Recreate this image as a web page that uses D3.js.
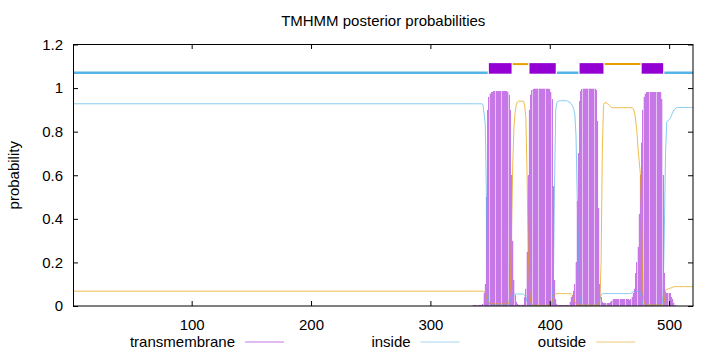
<!DOCTYPE html>
<html><head><meta charset="utf-8">
<script src="https://cdn.jsdelivr.net/npm/d3@7"></script>
<style>
body{margin:0;background:#fff}
svg{display:block}
text{font-family:"Liberation Sans",Arial,Helvetica,sans-serif;fill:#000}
</style>
</head><body>
<svg id="chart" width="720" height="352"></svg>
<script>
// ---------------- data ----------------
const chartTitle = "TMHMM posterior probabilities";
const yLabel = "probability";
const seriesNames = ["transmembrane", "inside", "outside"];
const xTicks = [100, 200, 300, 400, 500];
const yTicks = [0, 0.2, 0.4, 0.6, 0.8, 1, 1.2];
const seqLength = 520;

// residue 1 (flat N-terminal stretch), then residues 336..520
const residues = [1].concat(d3.range(336, 521));

const tmProb = [0.004,
  0.004,0.004,0.004,0.004,0.004,0.004,0.004,0.004,0.01,0.06,
  0.1,0.5,0.9,0.96,0.975,0.98,0.983,0.985,0.985,0.985,
  0.985,0.985,0.985,0.985,0.985,0.985,0.985,0.985,0.985,0.983,
  0.97,0.9,0.6,0.3,0.12,0.05,0.02,0.01,0.006,0.006,
  0.006,0.006,0.006,0.04,0.08,0.25,0.6,0.9,0.97,0.99,
  0.995,0.998,0.998,0.998,0.998,0.998,0.998,0.998,0.998,0.998,
  0.998,0.998,0.998,0.998,0.995,0.98,0.95,0.55,0.12,0.03,
  0.01,0.004,0.004,0.004,0.004,0.004,0.004,0.004,0.004,0.004,
  0.004,0.02,0.04,0.05,0.07,0.1,0.2,0.48,0.7,0.94,
  0.985,0.995,0.998,0.998,0.998,0.998,0.998,0.998,0.998,0.998,
  0.998,0.998,0.998,0.99,0.85,0.45,0.1,0.04,0.02,0.015,
  0.012,0.012,0.012,0.012,0.012,0.02,0.025,0.03,0.03,0.03,
  0.03,0.03,0.03,0.03,0.03,0.03,0.03,0.03,0.03,0.03,
  0.03,0.028,0.03,0.04,0.06,0.08,0.15,0.2,0.27,0.42,
  0.6,0.75,0.9,0.96,0.975,0.98,0.982,0.982,0.982,0.982,
  0.982,0.982,0.982,0.982,0.982,0.982,0.982,0.98,0.95,0.6,
  0.15,0.065,0.06,0.06,0.06,0.06,0.04,0.03,0.015,0.005,
  0,0,0,0,0,0,0,0,0,0,
  0,0,0,0,0];

const insideProb = [0.928,
  0.928,0.928,0.928,0.928,0.928,0.928,0.928,0.928,0.925,0.88,
  0.83,0.48,0.06,0.015,0.006,0.006,0.006,0.006,0.006,0.006,
  0.006,0.006,0.006,0.006,0.006,0.006,0.006,0.006,0.006,0.006,
  0.01,0.02,0.04,0.05,0.055,0.055,0.055,0.055,0.055,0.055,
  0.055,0.055,0.055,0.05,0.04,0.02,0.01,0.005,0.002,0.002,
  0.002,0.002,0.002,0.002,0.002,0.002,0.002,0.002,0.002,0.002,
  0.002,0.002,0.002,0.002,0.002,0.002,0.01,0.1,0.55,0.9,
  0.935,0.94,0.942,0.942,0.942,0.942,0.942,0.942,0.942,0.94,
  0.937,0.933,0.928,0.92,0.905,0.88,0.78,0.5,0.28,0.05,
  0.015,0.003,0.003,0.003,0.003,0.003,0.003,0.003,0.003,0.003,
  0.003,0.003,0.003,0.003,0.005,0.01,0.03,0.05,0.057,0.057,
  0.057,0.057,0.057,0.057,0.057,0.057,0.057,0.057,0.057,0.057,
  0.057,0.057,0.057,0.057,0.057,0.057,0.057,0.057,0.057,0.057,
  0.057,0.057,0.058,0.062,0.066,0.068,0.068,0.068,0.068,0.068,
  0.06,0.03,0.01,0.004,0.004,0.004,0.004,0.004,0.004,0.004,
  0.004,0.004,0.004,0.004,0.004,0.004,0.004,0.004,0.004,0.05,
  0.35,0.7,0.845,0.85,0.855,0.862,0.875,0.888,0.9,0.905,
  0.909,0.911,0.911,0.911,0.911,0.911,0.911,0.911,0.911,0.911,
  0.911,0.911,0.911,0.911,0.911];

const outsideProb = [0.068,
  0.068,0.068,0.068,0.068,0.068,0.068,0.068,0.068,0.068,0.066,
  0.06,0.04,0.025,0.015,0.01,0.01,0.01,0.01,0.01,0.01,
  0.01,0.01,0.01,0.01,0.01,0.01,0.01,0.01,0.01,0.01,
  0.02,0.08,0.36,0.65,0.82,0.89,0.925,0.937,0.94,0.94,
  0.94,0.94,0.94,0.92,0.86,0.6,0.25,0.08,0.02,0.008,
  0.003,0.003,0.003,0.003,0.003,0.003,0.003,0.003,0.003,0.003,
  0.003,0.003,0.003,0.003,0.003,0.003,0.02,0.04,0.05,0.055,
  0.057,0.057,0.057,0.057,0.057,0.057,0.057,0.057,0.057,0.057,
  0.057,0.057,0.055,0.05,0.035,0.02,0.01,0.004,0.004,0.004,
  0.004,0.004,0.004,0.004,0.004,0.004,0.004,0.004,0.004,0.004,
  0.004,0.004,0.004,0.004,0.004,0.008,0.03,0.2,0.7,0.92,
  0.933,0.933,0.93,0.925,0.92,0.915,0.91,0.91,0.91,0.91,
  0.91,0.91,0.91,0.91,0.91,0.91,0.91,0.91,0.91,0.91,
  0.91,0.91,0.91,0.91,0.905,0.89,0.85,0.8,0.72,0.66,
  0.6,0.4,0.06,0.02,0.005,0.005,0.005,0.005,0.005,0.005,
  0.005,0.005,0.005,0.005,0.005,0.005,0.005,0.005,0.005,0.005,
  0.02,0.073,0.075,0.078,0.08,0.082,0.084,0.086,0.088,0.089,
  0.089,0.089,0.089,0.089,0.089,0.089,0.089,0.089,0.089,0.089,
  0.089,0.089,0.089,0.089,0.089];

// predicted topology (residue ranges)
const tmHelices = [[349, 368], [383, 405], [425, 445], [477, 495]];
const insideSegments = [[1, 348], [406, 424], [496, 520]];
const outsideSegments = [[369, 382], [446, 476]];

// ---------------- drawing ----------------
const L = 73.5, R = 693, T = 44.5, B = 306;
const FONT = 15;

const svg = d3.select("#chart");
const x = d3.scaleLinear().domain([1, seqLength]).range([L, R]);
const y = d3.scaleLinear().domain([0, 1.2]).range([B, T]);

const colTM = "#9400d3", colIn = "#56b4e9", colOut = "#e69f00";

const tmData = residues.map((r, i) => [r, tmProb[i]]);
// TM impulses: light under-layer + crisp main impulses
svg.append("g").selectAll("line").data(tmData).join("line")
  .attr("x1", d => x(d[0])).attr("x2", d => x(d[0]))
  .attr("y1", y(0)).attr("y2", d => y(d[1]))
  .attr("stroke", "#e2b6f2").attr("stroke-width", 1.3);
svg.append("g").selectAll("line").data(tmData).join("line")
  .attr("x1", d => x(d[0])).attr("x2", d => x(d[0]))
  .attr("y1", y(0)).attr("y2", d => y(d[1]))
  .attr("shape-rendering", "crispEdges")
  .attr("stroke", "#c678e7").attr("stroke-width", 1);

const line = d3.line().x(d => x(d[0])).y(d => y(d[1]));
svg.append("path").datum(residues.map((r, i) => [r, insideProb[i]]))
  .attr("d", line).attr("fill", "none")
  .attr("stroke", colIn).attr("stroke-opacity", 0.7).attr("stroke-width", 1);
svg.append("path").datum(residues.map((r, i) => [r, outsideProb[i]]))
  .attr("d", line).attr("fill", "none")
  .attr("stroke", colOut).attr("stroke-opacity", 0.7).attr("stroke-width", 1);

// topology bar on top
const topo = svg.append("g");
topo.selectAll("line.in").data(insideSegments).join("line").attr("class", "in")
  .attr("x1", d => x(d[0])).attr("x2", d => x(d[1]))
  .attr("y1", y(1.0704)).attr("y2", y(1.0704))
  .attr("stroke", colIn).attr("stroke-width", 2.5);
topo.selectAll("line.out").data(outsideSegments).join("line").attr("class", "out")
  .attr("x1", d => x(d[0])).attr("x2", d => x(d[1]))
  .attr("y1", y(1.11)).attr("y2", y(1.11))
  .attr("stroke", colOut).attr("stroke-width", 2);
topo.selectAll("rect").data(tmHelices).join("rect")
  .attr("x", d => x(d[0])).attr("width", d => x(d[1]) - x(d[0]))
  .attr("y", y(1.1145)).attr("height", y(1.066) - y(1.1145))
  .attr("fill", colTM);

// axes
const fmt = d => String(d);
const gl = svg.append("g").attr("transform", `translate(${L - 0.5},0)`)
  .call(d3.axisLeft(y).tickValues(yTicks).tickSize(-5).tickPadding(10).tickFormat(fmt));
const gr = svg.append("g").attr("transform", `translate(${R},0)`)
  .call(d3.axisRight(y).tickValues(yTicks).tickSize(-5).tickFormat(""));
const gb = svg.append("g").attr("transform", `translate(0,${B})`)
  .call(d3.axisBottom(x).tickValues(xTicks).tickSize(-5).tickPadding(13).tickFormat(fmt));
const gt = svg.append("g").attr("transform", `translate(0,${T - 0.5})`)
  .call(d3.axisTop(x).tickValues(xTicks).tickSize(-5).tickFormat(""));
[gl, gr, gb, gt].forEach(g => {
  g.select(".domain").remove();
  g.selectAll("text").style("font-size", FONT + "px").attr("fill", "#000");
  g.selectAll(".tick line").attr("stroke", "#000");
});

// frame
const frame = svg.append("g").attr("stroke", "#000").attr("stroke-width", 1);
frame.append("line").attr("x1", L).attr("x2", L).attr("y1", T - 0.5).attr("y2", B);
frame.append("line").attr("x1", L - 0.5).attr("x2", R).attr("y1", T).attr("y2", T);
frame.append("line").attr("x1", L - 0.5).attr("x2", R + 0.5).attr("y1", B).attr("y2", B);
frame.append("line").attr("x1", R).attr("x2", R).attr("y1", T - 0.5).attr("y2", B);

// title and axis label
svg.append("text").attr("x", (L + R) / 2).attr("y", 26).attr("text-anchor", "middle")
  .style("font-size", FONT + "px").text(chartTitle);
svg.append("text").attr("transform", `translate(19,${(T + B) / 2}) rotate(-90)`)
  .attr("text-anchor", "middle").style("font-size", FONT + "px").text(yLabel);

// legend
const legendColors = ["#c676e6", "#a6d6f2", "#f0c878"];
const legendEnds = [235, 410.6, 586.2];
const lg = svg.append("g");
seriesNames.forEach((n, i) => {
  lg.append("text").attr("x", legendEnds[i]).attr("y", 347).attr("text-anchor", "end")
    .style("font-size", FONT + "px").text(n);
  lg.append("line").attr("x1", legendEnds[i] + 10).attr("x2", legendEnds[i] + 49)
    .attr("y1", 342).attr("y2", 342).attr("stroke", legendColors[i]).attr("stroke-width", 1);
});
</script>
</body></html>
